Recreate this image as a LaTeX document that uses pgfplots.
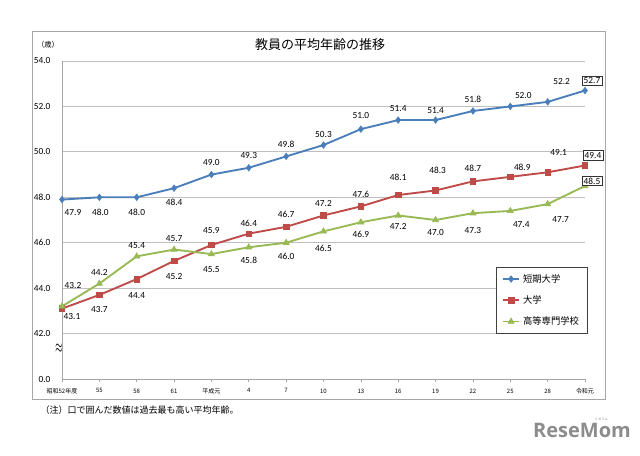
\documentclass[border=0pt]{standalone}
\usepackage{fontspec}
\setmainfont{Carlito}
\newfontfamily\cjk{Noto Sans CJK JP}
\newfontfamily\logofont{Open Sans}
\usepackage{pgfplots}
\pgfplotsset{compat=1.18}
\usepackage{pgfplotstable}

\definecolor{cBlue}{HTML}{4A7EBB}
\definecolor{cRed}{HTML}{BE4B48}
\definecolor{cGreen}{HTML}{98B954}
\definecolor{gridc}{HTML}{BFBFBF}
\definecolor{framec}{HTML}{A6A6A6}

\pgfplotstableread{
x y dx dy
0 47.9 11 -13
1 48.0 1 -15
2 48.0 0 -15
3 48.4 0 -14
4 49.0 0 12
5 49.3 0 12
6 49.8 0 12
7 50.3 0 11
8 51.0 0 14
9 51.4 0 12
10 51.4 0 10
11 51.8 0 12
12 52.0 13 11
13 52.2 14 20
14 52.7 7 10
}\tanki

\pgfplotstableread{
x y dx dy
0 43.1 10 -8
1 43.7 0 -15
2 44.4 0 -16
3 45.2 0 -16
4 45.9 0 14
5 46.4 0 10
6 46.7 0 12
7 47.2 0 12
8 47.6 0 12
9 48.1 0 18
10 48.3 2 20
11 48.7 0 13
12 48.9 12 10
13 49.1 11 20
14 49.4 8 10
}\daigaku

\pgfplotstableread{
x y dx dy
0 43.2 11 21
1 44.2 0 11
2 45.4 0 11
3 45.7 0 11
4 45.5 0 -15
5 45.8 0 -13
6 46.0 0 -14
7 46.5 0 -17
8 46.9 0 -12
9 47.2 0 -11
10 47.0 0 -12
11 47.3 0 -17
12 47.4 11 -14
13 47.7 13 -15
14 48.5 7 5
}\kosen

\pgfplotsset{
  lbl/.style={draw=none, mark=none, forget plot,
    nodes near coords, point meta=y,
    visualization depends on={0.75*\thisrow{dx} \as \ldx},
    visualization depends on={0.75*\thisrow{dy} \as \ldy},
    every node near coord/.append style={anchor=center, text=black,
      xshift=\ldx pt, yshift=\ldy pt,
      font=\fontsize{7}{8}\selectfont, inner sep=1.2pt}},
  lblnorm/.style={lbl, restrict x to domain=-0.5:13.5},
  lblbox/.style={lbl, restrict x to domain=13.5:14.5,
    every node near coord/.append style={draw=black!80, line width=0.5pt, fill=white}},
}

\begin{document}
\begin{tikzpicture}
\useasboundingbox (0,0) rectangle (480pt,-341.25pt);
\fill[white] (0,0) rectangle (480pt,-341.25pt);
\draw[framec, line width=0.6pt] (24pt,-23.25pt) rectangle (453.75pt,-299.25pt);
\node[font=\cjk\fontsize{9.75}{10}\selectfont] at (240pt,-33.75pt) {教員の平均年齢の推移};
\node[font=\cjk\fontsize{5.5}{6}\selectfont] at (36pt,-33.75pt) {（歳）};
\node[font=\cjk\fontsize{6.75}{7}\selectfont, anchor=west] at (27pt,-307.5pt) {（注）口で囲んだ数値は過去最も高い平均年齢。};
\node[font=\logofont\bfseries\fontsize{15}{15}\selectfont, text=black!45] at (436.5pt,-322.5pt) {ReseMom};
\node[font=\cjk\fontsize{2.5}{3}\selectfont, text=black!45] at (451pt,-314.5pt) {リセマム};

\begin{axis}[
  at={(46.5pt,-284.25pt)}, anchor=south west,
  scale only axis, width=392.25pt, height=238.5pt,
  xmin=0, xmax=14, ymin=40, ymax=54,
  axis x line*=bottom, axis y line*=left,
  axis line style={draw=framec, line width=0.6pt},
  xtick={0,...,14},
  xticklabels={昭和52年度,55,58,61,平成元,4,7,10,13,16,19,22,25,28,令和元},
  xticklabel style={font=\cjk\fontsize{4.5}{5}\selectfont, yshift=-1.5pt},
  ytick={40,42,...,54},
  yticklabels={0.0,42.0,44.0,46.0,48.0,50.0,52.0,54.0},
  yticklabel style={font=\fontsize{7}{8}\selectfont, xshift=-3pt},
  tick align=outside, major tick length=2.2pt,
  xtick style={draw=framec, line width=0.5pt},
  ytick style={draw=none},
  ymajorgrids, grid style={gridc, line width=0.6pt},
  /pgf/number format/.cd, fixed, fixed zerofill, precision=1, assume math mode=true,
  /pgfplots/.cd,
  clip=false,
  legend style={at={(0.83,0.352)}, anchor=north west, draw=black!75, line width=0.6pt,
    font=\cjk\fontsize{7}{8}\selectfont, row sep=4.5pt, inner xsep=4pt, inner ysep=3pt,
    cells={anchor=west}},
  legend image code/.code={\draw[mark repeat=2,mark phase=2] plot coordinates {(0cm,0cm) (0.22cm,0cm) (0.44cm,0cm)};},
]
\addplot[cBlue, line width=1.4pt, mark=diamond*, mark size=2.4pt, mark options={solid, line width=0.5pt}] table[x=x,y=y]{\tanki};
\addlegendentry{短期大学}
\addplot[cRed, line width=1.4pt, mark=square*, mark size=2.1pt, mark options={solid, line width=0.5pt}] table[x=x,y=y]{\daigaku};
\addlegendentry{大学}
\addplot[cGreen, line width=1.4pt, mark=triangle*, mark size=2.6pt, mark options={solid, line width=0.5pt}] table[x=x,y=y]{\kosen};
\addlegendentry{高等専門学校}

\addplot[lblnorm] table[x=x,y=y]{\tanki};
\addplot[lblnorm] table[x=x,y=y]{\daigaku};
\addplot[lblnorm] table[x=x,y=y]{\kosen};
\addplot[lblbox] table[x=x,y=y]{\tanki};
\addplot[lblbox] table[x=x,y=y]{\daigaku};
\addplot[lblbox] table[x=x,y=y]{\kosen};

\node[font=\fontsize{6}{6}\selectfont, inner sep=0pt, xshift=-2.3pt] at (axis cs:0,41.34) {\scalebox{1}[2]{$\approx$}};
\end{axis}
\end{tikzpicture}
\end{document}
